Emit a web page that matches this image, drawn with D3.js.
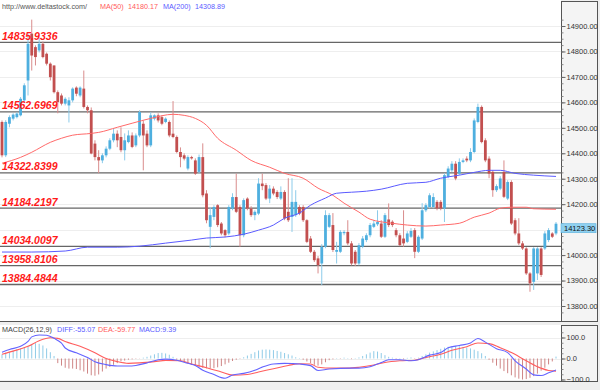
<!DOCTYPE html>
<html>
<head>
<meta charset="utf-8">
<script src="https://cdn.jsdelivr.net/npm/d3@7/dist/d3.min.js"></script>
<style>
body { margin: 0; background: #efefef; }
svg { display: block; font-family: "Liberation Sans", Arial, sans-serif; }
</style>
</head>
<body>
<svg id="chart" width="600" height="390"></svg>
<script>
// daily candles
var opens = [14523,14392,14516,14536,14542,14549,14608,14686,14870,14817,14804,14830,14791,14752,14745,14640,14627,14595,14588,14608,
  14658,14627,14654,14582,14569,14438,14385,14372,14392,14418,14451,14477,14464,14412,14444,14470,14431,14470,14516,14477,
  14431,14536,14549,14542,14523,14523,14477,14464,14405,14392,14340,14385,14372,14327,14385,14242,14111,14150,14196,14124,
  14098,14085,14183,14228,14189,14078,14222,14183,14157,14163,14281,14275,14222,14261,14248,14222,14248,14170,14150,14157,
  14189,14189,14137,14065,14013,13987,13967,14033,14111,14118,14013,14013,14086,14091,14046,14013,13967,14033,14059,14078,
  14111,14121,14124,14072,14140,14131,14098,14078,14065,14052,14072,14098,14013,14065,14176,14189,14189,14209,14209,14183,
  14307,14333,14359,14320,14366,14379,14372,14405,14523,14582,14451,14379,14327,14255,14261,14327,14222,14287,14137,14085,
  14046,14026,13928,13895,13928,14026,14026,14059,14085,14085];
var highs = [14529,14530,14549,14557,14561,14621,14675,14870,14925,14824,14855,14839,14796,14757,14745,14647,14635,14620,14620,14659,
  14663,14663,14725,14588,14580,14451,14412,14400,14427,14459,14498,14490,14502,14478,14490,14482,14478,14569,14529,14490,
  14561,14553,14557,14549,14541,14529,14605,14470,14423,14400,14392,14390,14380,14395,14439,14255,14189,14196,14200,14130,
  14102,14196,14243,14320,14196,14223,14227,14192,14176,14302,14320,14283,14275,14270,14255,14270,14255,14302,14302,14255,
  14196,14196,14141,14075,14020,13996,14043,14176,14165,14165,14052,14098,14098,14137,14055,14020,14047,14075,14086,14126,
  14137,14176,14137,14165,14203,14137,14106,14086,14176,14094,14106,14106,14078,14204,14204,14243,14243,14216,14216,14322,
  14349,14369,14369,14380,14380,14388,14420,14537,14595,14588,14459,14388,14333,14278,14310,14372,14294,14294,14145,14145,
  14055,14031,13933,14031,14031,14031,14094,14106,14090,14130];
var lows = [14384,14385,14502,14529,14537,14545,14600,14627,14725,14745,14796,14773,14745,14686,14635,14557,14588,14588,14521,14600,
  14624,14620,14576,14557,14396,14372,14322,14361,14384,14412,14443,14424,14404,14372,14439,14420,14424,14463,14333,14424,
  14424,14529,14521,14510,14518,14463,14459,14400,14345,14372,14333,14375,14315,14320,14227,14125,14027,14137,14110,14078,
  14070,14078,14176,14165,14033,14070,14176,14150,14137,14157,14255,14216,14204,14235,14220,14216,14137,14130,14091,14150,
  14157,14130,14047,14008,13973,13928,13882,14027,14106,14012,13967,14008,14078,14039,13960,13957,13960,14027,14051,14070,
  14106,14114,14067,14067,14110,14110,14070,14035,14033,14047,14067,13988,14008,14059,14169,14184,14184,14176,14176,14130,
  14302,14326,14294,14314,14361,14365,14365,14400,14518,14439,14365,14302,14229,14248,14255,14224,14216,14118,14078,14039,
  14020,13922,13856,13863,13902,13914,14020,14051,14067,14078];
var closes = [14392,14523,14542,14552,14556,14614,14667,14830,14784,14778,14830,14778,14752,14699,14640,14601,14595,14614,14608,14654,
  14634,14658,14582,14569,14399,14385,14372,14392,14418,14451,14477,14451,14412,14451,14470,14425,14470,14562,14470,14431,
  14549,14549,14529,14516,14536,14470,14464,14405,14385,14379,14385,14380,14320,14385,14235,14137,14157,14189,14118,14085,
  14078,14189,14228,14170,14078,14216,14183,14157,14170,14281,14271,14222,14261,14242,14228,14248,14144,14137,14209,14209,
  14163,14137,14052,14013,13980,13961,14033,14157,14157,14020,14020,14091,14091,14046,13967,13967,14039,14065,14078,14118,
  14124,14130,14072,14157,14118,14118,14078,14039,14046,14085,14095,14013,14072,14176,14196,14235,14228,14183,14183,14314,
  14340,14359,14301,14366,14372,14372,14405,14529,14582,14444,14372,14320,14255,14271,14301,14229,14287,14124,14085,14046,
  14026,13928,13889,14026,14026,13922,14085,14098,14072,14123.3];

// support / resistance levels
var levels = [14835.9336, 14562.6969, 14322.8399, 14184.2197, 14034.0097, 13958.8106, 13884.4844];
var priceTicks = [13800, 13900, 14000, 14100, 14200, 14300, 14400, 14500, 14600, 14700, 14800, 14900];
var lastPrice = 14123.30;

// moving averages, sampled at candle index
var ma50Idx  = [0,5,8,13,16,19,24,26,31,35,40,46,49,52,55,58,63,67,72,76,81,85,89,92,96,99,105,109,114,118,123,127,131,134,137,141,143,149];
var ma50Vals = [14361,14384,14404,14443,14459,14471,14478,14482,14502,14518,14537,14553,14549,14537,14510,14459,14412,14372,14345,14321,
  14302,14263,14235,14204,14169,14141,14125,14118,14114,14118,14125,14149,14165,14184,14188,14188,14182,14180];
var ma200Idx  = [0,8,17,23,31,37,44,51,55,60,65,69,73,76,80,83,87,90,94,98,102,109,114,118,123,127,131,134,138,143,149];
var ma200Vals = [14012,14012,14016,14031,14031,14035,14047,14059,14067,14071,14082,14098,14118,14145,14165,14196,14224,14243,14247,14251,
  14259,14282,14286,14302,14314,14325,14333,14333,14321,14314,14309];

// MACD panel
var macdHist = [20,28,32,38,44,48,54,60,68,73,70,62,48,30,12,
  -22,-34,-44,-48,-48,-50,-56,-62,-72,-80,-82,-76,-62,
  -48,-40,-30,-22,-14,-10,-6,-4,-2,-1,
  4,8,14,20,26,27,24,18,8,
  -6,-12,-18,-24,-30,-36,-40,-44,-47,-48,-46,-42,-36,-28,-20,-12,-6,-2,
  6,14,22,30,38,42,43,42,40,36,32,26,20,14,6,2,
  -6,-14,-22,-30,-34,-28,-18,
  -8,-4,2,-2,4,2,-3,2,5,
  12,20,28,35,33,26,16,8,
  4,-3,2,-4,3,5,-2,4,
  12,20,28,34,40,46,52,56,58,60,58,55,52,48,42,35,25,12,
  -6,-20,-34,-48,-60,-70,-80,-90,-96,-100,-98,-92,-84,-72,-58,-44,-28,-14,
  9];
var diffIdx  = [0,2,5,7,8,10,12,14,16,17,20,23,25,28,31,34,36,39,42,44,47,50,52,54,57,59,60,62,65,68,70,73,76,78,80,83,85,88,94,96,99,
  102,104,107,110,112,115,118,120,123,126,128,130,133,136,138,141,143,145,147,149];
var diffVals = [30,43,58,81,103,112,111,96,73,50,27,5,-15,-29,-36,-36,-33,-21,-6,-3,-8,-23,-33,-56,-76,-91,-94,-79,-71,-56,-41,-26,-23,-24,-26,-34,-57,-50,-46,-46,-39,
  -19,-6,-6,-11,-6,16,28,51,62,74,95,78,47,28,-11,-50,-78,-81,-68,-55];
var deaIdx  = [0,3,7,10,13,15,17,21,25,28,31,34,37,41,44,48,51,55,59,62,66,69,73,77,80,83,85,89,93,96,100,103,107,111,114,118,121,125,128,131,134,137,141,145,147,149];
var deaVals = [20,35,58,85,99,96,81,58,27,0,-15,-23,-21,-15,-9,-11,-26,-44,-64,-79,-76,-64,-49,-33,-25,-26,-42,-46,-46,-42,-31,-19,-11,-8,5,20,39,56,74,71,51,28,-11,-46,-57,-60];
var macdTicks = [100, 0, -100];

var svg = d3.select("#chart");
var plotW = 561;

var x = d3.scaleLinear().domain([0, opens.length - 1]).range([2, 556]);
var y = d3.scaleLinear().domain([13800, 14900]).range([306, 26]);
var ym = d3.scaleLinear().domain([-100, 100]).range([379.5, 337.5]);

// panels
svg.append("rect").attr("x", 0).attr("y", 0).attr("width", plotW).attr("height", 321).attr("fill", "#fff");
svg.append("rect").attr("x", 0).attr("y", 325).attr("width", plotW).attr("height", 56).attr("fill", "#fff");
svg.append("rect").attr("x", plotW + 0.5).attr("y", 1.5).attr("width", 36).attr("height", 320).attr("fill", "#f4f4f4").attr("stroke", "#555");
svg.append("rect").attr("x", plotW + 0.5).attr("y", 325.5).attr("width", 36).attr("height", 56).attr("fill", "#f4f4f4").attr("stroke", "#555");
svg.append("line").attr("x1", 0).attr("x2", 598).attr("y1", 321.5).attr("y2", 321.5).attr("stroke", "#555");
svg.append("line").attr("x1", 0).attr("x2", 598).attr("y1", 381.5).attr("y2", 381.5).attr("stroke", "#555");

// light grid
svg.append("g").selectAll("line").data(priceTicks).enter().append("line")
  .attr("x1", 0).attr("x2", plotW)
  .attr("y1", function (d) { return Math.round(y(d)) + 0.5; })
  .attr("y2", function (d) { return Math.round(y(d)) + 0.5; })
  .attr("stroke", "#eeeeee");
svg.append("g").selectAll("line").data(macdTicks).enter().append("line")
  .attr("x1", 0).attr("x2", plotW)
  .attr("y1", function (d) { return Math.round(ym(d)) + 0.5; })
  .attr("y2", function (d) { return Math.round(ym(d)) + 0.5; })
  .attr("stroke", "#eeeeee");

// price axis (the 14100 label sits under the last-price tag, so it is not written)
var minor = d3.range(13775, 14926, 25);
svg.append("g").attr("transform", "translate(" + (plotW + 0.5) + ",0)")
  .call(d3.axisRight(y).tickValues(minor).tickSize(2).tickFormat(""))
  .call(function (g) { g.select(".domain").remove(); g.selectAll("line").attr("stroke", "#888"); });
svg.append("g").attr("transform", "translate(" + (plotW + 0.5) + ",0)")
  .call(d3.axisRight(y).tickValues(priceTicks.filter(function (d) { return Math.abs(y(d) - y(lastPrice) - 4) > 8; }))
    .tickSize(4).tickPadding(1).tickFormat(d3.format(".2f")))
  .call(function (g) {
    g.select(".domain").remove();
    g.selectAll("line").attr("stroke", "#666");
    g.selectAll("text").attr("font-size", "7.5px").attr("fill", "#333").attr("font-family", "Liberation Sans, Arial, sans-serif");
  });

// macd axis
var mminor = d3.range(-125, 126, 25);
svg.append("g").attr("transform", "translate(" + (plotW + 0.5) + ",0)")
  .call(d3.axisRight(ym).tickValues(mminor.filter(function (d) { return ym(d) > 326 && ym(d) < 381; })).tickSize(2).tickFormat(""))
  .call(function (g) { g.select(".domain").remove(); g.selectAll("line").attr("stroke", "#888"); });
svg.append("g").attr("transform", "translate(" + (plotW + 0.5) + ",0)")
  .call(d3.axisRight(ym).tickValues(macdTicks).tickSize(4).tickPadding(1).tickFormat(d3.format(".1f")))
  .call(function (g) {
    g.select(".domain").remove();
    g.selectAll("line").attr("stroke", "#666");
    g.selectAll("text").attr("font-size", "7.5px").attr("fill", "#333").attr("font-family", "Liberation Sans, Arial, sans-serif");
  });

// levels
svg.append("g").selectAll("line").data(levels).enter().append("line")
  .attr("x1", 0).attr("x2", plotW)
  .attr("y1", function (d) { return y(d); })
  .attr("y2", function (d) { return y(d); })
  .attr("stroke", "#666").attr("stroke-width", 1.3);

// candles
var candles = opens.map(function (o, i) {
  return { i: i, o: o, h: highs[i], l: lows[i], c: closes[i], up: closes[i] >= o };
});
var cg = svg.append("g");
cg.selectAll("line").data(candles).enter().append("line")
  .attr("x1", function (d) { return x(d.i); })
  .attr("x2", function (d) { return x(d.i); })
  .attr("y1", function (d) { return y(d.h); })
  .attr("y2", function (d) { return y(d.l); })
  .attr("stroke", function (d) { return d.up ? "#8ccbea" : "#d98c8c"; })
  .attr("stroke-width", 1);
cg.selectAll("rect").data(candles).enter().append("rect")
  .attr("x", function (d) { return x(d.i) - 1.4; })
  .attr("width", 2.8)
  .attr("y", function (d) { return y(Math.max(d.o, d.c)); })
  .attr("height", function (d) { return Math.max(1, Math.abs(y(d.o) - y(d.c))); })
  .attr("fill", function (d) { return d.up ? "#4eafdf" : "#c24f4f"; });

// moving averages
var line = d3.line().x(function (d) { return x(d[0]); }).y(function (d) { return y(d[1]); }).curve(d3.curveMonotoneX);
svg.append("path").attr("d", line(d3.zip(ma50Idx, ma50Vals)))
  .attr("fill", "none").attr("stroke", "#ff6a6a").attr("stroke-width", 1);
svg.append("path").attr("d", line(d3.zip(ma200Idx, ma200Vals)))
  .attr("fill", "none").attr("stroke", "#5a5aff").attr("stroke-width", 1);

// level labels
svg.append("g").selectAll("text").data(levels).enter().append("text")
  .attr("x", 2).attr("y", function (d) { return y(d) - 2.5; })
  .attr("font-size", "10.5px").attr("font-weight", "bold").attr("font-style", "italic")
  .attr("fill", "#ff1a1a")
  .text(function (d) { return d3.format(".4f")(d); });

// last price tag
svg.append("rect").attr("x", plotW).attr("y", y(lastPrice)).attr("width", 35).attr("height", 9)
  .attr("fill", "#8fd0ef").attr("stroke", "#5ab0dc").attr("stroke-width", 0.6);
svg.append("text").attr("x", plotW + 3).attr("y", y(lastPrice) + 7.5)
  .attr("font-size", "7.5px").attr("fill", "#111").text(d3.format(".2f")(lastPrice));

// header
var hdr = svg.append("text").attr("x", 2).attr("y", 9).attr("font-size", "7.2px");
hdr.append("tspan").attr("fill", "#555").text("http://www.deltastock.com/");
hdr.append("tspan").attr("x", 100).attr("fill", "#ff5a5a").text("MA(50)");
hdr.append("tspan").attr("x", 128).attr("fill", "#ff5a5a").text("14180.17");
hdr.append("tspan").attr("x", 163).attr("fill", "#5a5aff").text("MA(200)");
hdr.append("tspan").attr("x", 195).attr("fill", "#5a5aff").text("14308.89");

// MACD histogram
svg.append("g").selectAll("line").data(macdHist).enter().append("line")
  .attr("x1", function (d, i) { return x(i); })
  .attr("x2", function (d, i) { return x(i); })
  .attr("y1", ym(0))
  .attr("y2", function (d) { return ym(d); })
  .attr("stroke", function (d) { return d >= 0 ? "#8fcbe7" : "#cf8585"; })
  .attr("stroke-width", 1);

var mline = d3.line().x(function (d) { return x(d[0]); }).y(function (d) { return ym(d[1]); }).curve(d3.curveMonotoneX);
svg.append("path").attr("d", mline(d3.zip(deaIdx, deaVals)))
  .attr("fill", "none").attr("stroke", "#ff5e5e").attr("stroke-width", 1.1);
svg.append("path").attr("d", mline(d3.zip(diffIdx, diffVals)))
  .attr("fill", "none").attr("stroke", "#6464ff").attr("stroke-width", 1.1);

var mh = svg.append("text").attr("x", 2).attr("y", 332).attr("font-size", "7.2px");
mh.append("tspan").attr("fill", "#444").text("MACD(26,12,9)");
mh.append("tspan").attr("x", 57).attr("fill", "#5a5aff").text("DIFF:-55.07");
mh.append("tspan").attr("x", 98).attr("fill", "#ff5a5a").text("DEA:-59.77");
mh.append("tspan").attr("x", 139).attr("fill", "#5a5aff").text("MACD:9.39");
</script>
</body>
</html>
